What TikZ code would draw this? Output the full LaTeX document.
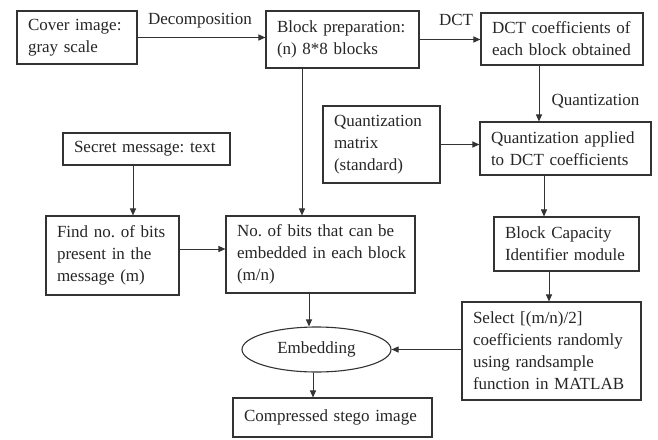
\documentclass[tikz,border=0pt]{standalone}
\usepackage{fontspec}
\setmainfont{Liberation Serif}
\usetikzlibrary{arrows.meta,shapes.geometric}
\frenchspacing
\begin{document}
\begin{tikzpicture}[x=1pt,y=-1pt,
  every node/.style={font=\fontsize{17}{22}\selectfont\frenchspacing, text=black!85},
  box/.style={draw=black!80, line width=1.1pt, inner xsep=9pt, inner ysep=0pt, align=left, anchor=center},
  lbl/.style={inner sep=0pt},
  arr/.style={draw=black!80, line width=1pt, -{Triangle[length=7pt,width=6pt]}}
]
\useasboundingbox (0,0) rectangle (658,439);
\fill[white] (0,0) rectangle (658,439);

\node[box, text width=102pt, minimum height=53pt] (cover) at (77,37.5) {\hspace*{2pt}Cover image:\\\hspace*{2pt}gray scale};
\node[box, text width=135pt, minimum height=57pt] (block) at (342.5,39.5) {\hspace*{2pt}Block preparation:\\\hspace*{2pt}(n) 8*8 blocks};
\node[box, text width=144pt, minimum height=52pt] (dct) at (562,39) {\hspace*{2pt}DCT coefficients of\\\hspace*{2pt}each block obtained};
\node[box, text width=99pt, minimum height=77pt] (qmat) at (381.5,144.5) {\hspace*{2pt}Quantization\\\hspace*{2pt}matrix\\\hspace*{2pt}(standard)};
\node[box, text width=153pt, minimum height=53pt] (qapp) at (565.5,148.5) {\hspace*{2pt}Quantization applied\\\hspace*{2pt}to DCT coefficients};
\node[box, text width=127pt, minimum height=54pt] (bcap) at (566.5,244) {\hspace*{2pt}Block Capacity\\\hspace*{2pt}Identifier module};
\node[box, text width=161pt, minimum height=98pt] (select) at (551.5,351) {\hspace*{2pt}Select [(m/n)/2]\\\hspace*{2pt}coefficients randomly\\\hspace*{2pt}using randsample\\\hspace*{2pt}function in MATLAB};
\node[box, text width=149pt, minimum height=32pt] (secret) at (146.5,149) {\hspace*{2pt}Secret message: text};
\node[box, text width=115pt, minimum height=79pt] (find) at (112.5,255.5) {\hspace*{2pt}Find no. of bits\\\hspace*{2pt}present in the\\\hspace*{2pt}message (m)};
\node[box, text width=171pt, minimum height=77pt] (nobits) at (320.5,254.5) {\hspace*{2pt}No. of bits that can be\\\hspace*{2pt}embedded in each block\\\hspace*{2pt}(m/n)};
\node[draw=black!80, line width=1.1pt, ellipse, inner sep=0pt, minimum width=149pt, minimum height=45pt] (embed) at (316.5,349.5) {Embedding};
\node[box, text width=181pt, minimum height=39pt] (comp) at (332.5,417.5) {\hspace*{2pt}Compressed stego image};

\node[lbl] (ldec) at (200,21) {Decomposition};
\node[lbl] (ldct) at (456,20) {DCT};
\node[lbl] (lquant) at (595.5,101) {Quantization};

\draw[arr] (cover.east) -- (cover.east -| block.west);
\draw[arr] (block.east) -- (block.east -| dct.west);
\draw[arr] ([xshift=-23pt]dct.south) -- ([xshift=-23pt]dct.south |- qapp.north);
\draw[arr] (qmat.east) -- (qmat.east -| qapp.west);
\draw[arr] ([xshift=-21.5pt]qapp.south) -- ([xshift=-21.5pt]qapp.south |- bcap.north);
\draw[arr] ([xshift=-17.5pt]bcap.south) -- ([xshift=-17.5pt]bcap.south |- select.north);
\draw[arr] (select.west |- embed.east) -- (embed.east);
\draw[arr] ([xshift=-13.5pt]secret.south) -- ([xshift=-13.5pt]secret.south |- find.north);
\draw[arr] ([yshift=6.5pt]find.east) -- ([yshift=6.5pt]find.east -| nobits.west);
\draw[arr] ([xshift=-40.5pt]block.south) -- ([xshift=-40.5pt]block.south |- nobits.north);
\draw[arr] ([xshift=-11.5pt]nobits.south) -- ([xshift=-11.5pt]nobits.south |- embed.north);
\draw[arr] ([xshift=-3.5pt]embed.south) -- ([xshift=-3.5pt]embed.south |- comp.north);
\end{tikzpicture}
\end{document}
